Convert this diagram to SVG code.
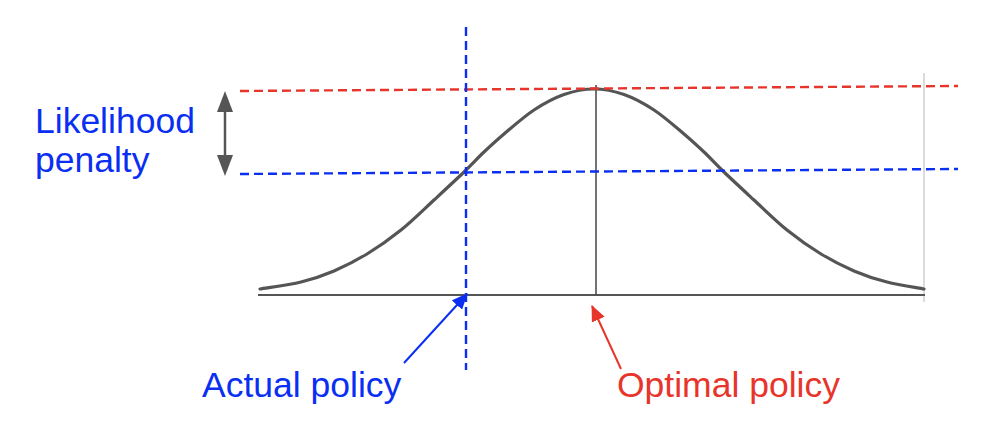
<svg xmlns="http://www.w3.org/2000/svg" width="1002" height="438" viewBox="0 0 1002 438">
<style>
.lbl{font-family:"Liberation Sans",Arial,sans-serif;font-size:35.5px}
.blue{fill:#0a2ff2}
.red{fill:#e8352b}
.dash{fill:none;stroke-width:2.4;stroke-dasharray:9 5}
</style>
<defs>
<marker id="ahBlue" markerUnits="userSpaceOnUse" markerWidth="16" markerHeight="14" refX="15" refY="7" orient="auto">
<path d="M0,0 L16,7 L0,14 z" fill="#0a2ff2"/>
</marker>
<marker id="ahRed" markerUnits="userSpaceOnUse" markerWidth="16" markerHeight="14" refX="15" refY="7" orient="auto">
<path d="M0,0 L16,7 L0,14 z" fill="#e8352b"/>
</marker>
</defs>
<rect width="1002" height="438" fill="#ffffff"/>
<g id="chart">
<line x1="924" y1="73" x2="924" y2="302" stroke="#cfcfcf" stroke-width="1.5"/>
<line x1="258" y1="295" x2="925" y2="295" stroke="#555" stroke-width="2"/>
<line x1="596" y1="85" x2="596" y2="295" stroke="#444" stroke-width="1.5"/>
<path id="curve" fill="none" stroke="#555" stroke-width="3.2" stroke-linecap="round" d="M260,289 C266.8,287.8 288.7,285 301,282 C313.3,279 323,275.7 334,271 C345,266.3 355.8,260.8 367,254 C378.2,247.2 389.8,239 401,230 C412.2,221 423.5,209.7 434,200 C444.5,190.3 455.7,180 464,172 C472.3,164 477.3,158.3 484,152 C490.7,145.7 495.7,141 504,134 C512.3,127 524,116.6 534,110 C544,103.4 554,98 564,94.5 C574,91 584,89 594,89 C604,89 614,91 624,94.5 C634,98 644,103.4 654,110 C664,116.6 675.7,127 684,134 C692.3,141 697.3,145.7 704,152 C710.7,158.3 715.7,164 724,172 C732.3,180 743.5,190.3 754,200 C764.5,209.7 775.8,221 787,230 C798.2,239 809.8,247.2 821,254 C832.2,260.8 843,266.3 854,271 C865,275.7 874.7,279 887,282 C898.7,285 917.8,287.8 924,289"/>
</g>
<g id="connectors">
<line class="dash" x1="240" y1="91" x2="958" y2="86" stroke="#e8352b"/>
<line class="dash" x1="240" y1="174" x2="958" y2="169" stroke="#0a2ff2"/>
<line class="dash" x1="466" y1="27" x2="466" y2="370" stroke="#0a2ff2"/>
<line x1="225" y1="108" x2="225" y2="160" stroke="#555" stroke-width="2.5"/>
<polygon points="225,91 217,112 233,112" fill="#555"/>
<polygon points="225,176 217,155 233,155" fill="#555"/>
<line x1="404" y1="363" x2="467" y2="294" stroke="#0a2ff2" stroke-width="2" marker-end="url(#ahBlue)"/>
<line x1="621" y1="369" x2="592" y2="306" stroke="#e8352b" stroke-width="2" marker-end="url(#ahRed)"/>
</g>
<g id="label-likelihood">
<text class="lbl blue" x="35" y="133">Likelihood</text>
<text class="lbl blue" x="35" y="172">penalty</text>
</g>
<g id="label-actual">
<text class="lbl blue" x="202" y="397">Actual policy</text>
</g>
<g id="label-optimal">
<text class="lbl red" x="617" y="397">Optimal policy</text>
</g>
</svg>
